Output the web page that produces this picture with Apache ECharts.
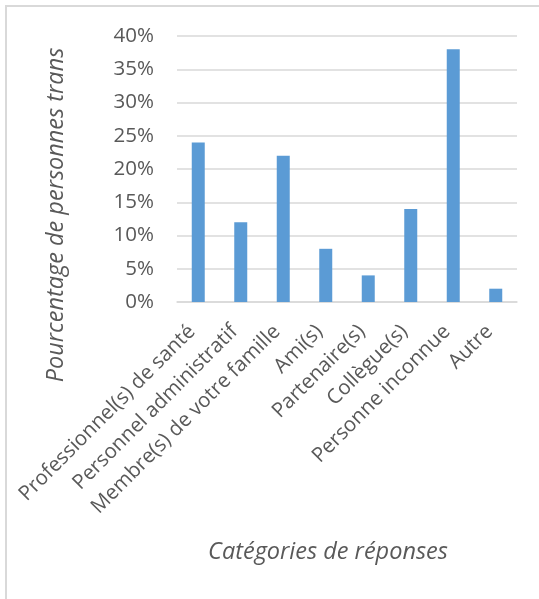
<!DOCTYPE html>
<html><head><meta charset="utf-8">
<script src="https://cdn.jsdelivr.net/npm/echarts@6/dist/echarts.min.js"></script>
<style>html,body{margin:0;padding:0;background:#fff}#c{width:539px;height:599px}</style>
</head><body><div id="c"></div>
<script>
const categories = ["Professionnel(s) de santé","Personnel administratif","Membre(s) de votre famille","Ami(s)","Partenaire(s)","Collègue(s)","Personne inconnue","Autre"];
const values = [24, 12, 22, 8, 4, 14, 38, 2];
const yTicks = [0, 5, 10, 15, 20, 25, 30, 35, 40];
const xTitle = "Catégories de réponses";
const yTitle = "Pourcentage de personnes trans";

const FONT = "Open Sans";
const TXT = "#595959";
const chart = echarts.init(document.getElementById('c'), null, {renderer:'canvas'});
chart.setOption({
  animation:false,
  grid:{left:177, right:22, top:36, bottom:297},
  xAxis:{type:'category', data:categories,
    axisLine:{lineStyle:{color:'#D9D9D9', width:1.5}},
    axisTick:{show:false},
    axisLabel:{rotate:45, color:TXT, fontFamily:FONT, fontSize:20.5, interval:0, margin:20, padding:[0,9,0,0]}},
  yAxis:{type:'value', min:yTicks[0], max:yTicks[yTicks.length-1], interval:5,
    axisLine:{show:false}, axisTick:{show:false},
    splitLine:{lineStyle:{color:'#D9D9D9', width:1.5}},
    axisLabel:{formatter:'{value}%', color:TXT, fontFamily:FONT, fontSize:20.5, margin:23}},
  series:[{type:'bar', data:values, barWidth:13, itemStyle:{color:'#5B9BD5'}}],
  graphic:[
    {type:'rect', shape:{x:6, y:6, width:600, height:700}, style:{fill:'none', stroke:'#D9D9D9', lineWidth:2}, silent:true},
    {type:'text', x:328, y:552, style:{text:xTitle, font:'italic 23.5px "Open Sans"', fill:TXT, textAlign:'center', textVerticalAlign:'middle'}},
    {type:'text', x:56, y:215, rotation:Math.PI/2, style:{text:yTitle, font:'italic 23.5px "Open Sans"', fill:TXT, textAlign:'center', textVerticalAlign:'middle'}}
  ]
});
</script></body></html>
